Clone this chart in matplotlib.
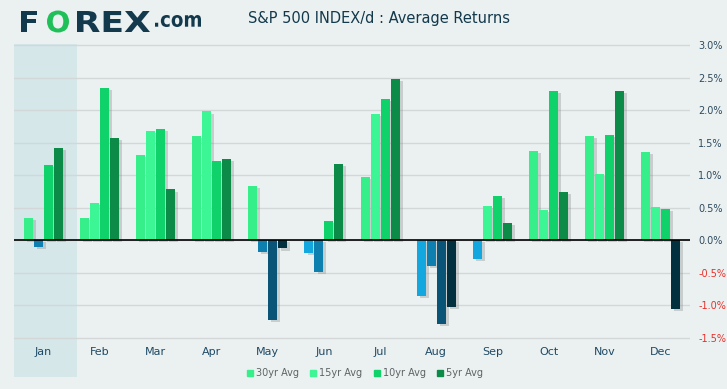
import matplotlib.pyplot as plt
import matplotlib.patheffects as pe
from matplotlib.textpath import TextPath
from matplotlib.patches import PathPatch
from matplotlib.font_manager import FontProperties
from matplotlib.transforms import Affine2D, IdentityTransform
import numpy as np

# average monthly returns in %
months = ['Jan', 'Feb', 'Mar', 'Apr', 'May', 'Jun',
          'Jul', 'Aug', 'Sep', 'Oct', 'Nov', 'Dec']
avg_30yr = [0.34, 0.34, 1.31, 1.60, 0.83, -0.20, 0.97, -0.86, -0.29, 1.37, 1.60, 1.36]
avg_15yr = [-0.11, 0.57, 1.68, 1.98, -0.18, -0.49, 1.94, -0.40, 0.52, 0.46, 1.02, 0.51]
avg_10yr = [1.15, 2.34, 1.71, 1.22, -1.23, 0.29, 2.17, -1.29, 0.68, 2.29, 1.62, 0.48]
avg_5yr = [1.42, 1.57, 0.78, 1.25, -0.13, 1.17, 2.48, -1.03, 0.26, 0.74, 2.29, -1.06]

series_names = ['30yr Avg', '15yr Avg', '10yr Avg', '5yr Avg']
yticks = [-1.5, -1.0, -0.5, 0.0, 0.5, 1.0, 1.5, 2.0, 2.5, 3.0]

pos_colors = ['#36ef8b', '#3cf594', '#10d26b', '#0b8a48']
neg_colors = ['#12a7df', '#0e80b0', '#0a5577', '#03303f']

bg = '#ebf0f0'
navy = '#12394c'
H = 389

fig = plt.figure(figsize=(7.27, 3.89), dpi=100, facecolor=bg)
ax = fig.add_axes([0.0193, 0.0308, 0.9298, 0.856])
ax.set_facecolor(bg)

x = np.arange(len(months))
step = 0.178
width = 0.16
shadow = [pe.SimplePatchShadow(offset=(2.2, -1.6), shadow_rgbFace='#7a8080', alpha=0.3),
          pe.Normal()]

# highlighted month
ax.axvspan(-0.52, 0.6, color='#d5e7e9', zorder=0, lw=0)

for i, vals in enumerate([avg_30yr, avg_15yr, avg_10yr, avg_5yr]):
    vals = np.array(vals)
    cols = [pos_colors[i] if v >= 0 else neg_colors[i] for v in vals]
    bars = ax.bar(x + (i - 1.5) * step, vals, width=width, color=cols,
                  zorder=3, label=series_names[i])
    for b in bars:
        b.set_path_effects(shadow)

ax.axhline(0, color='black', lw=1.2, zorder=4)

ax.set_xlim(-0.52, 11.52)
ax.set_ylim(-2.108, 3.015)
ax.set_yticks(yticks)
ax.yaxis.grid(True, color='#d3d7d8', lw=1, zorder=1)
ax.set_axisbelow(True)
ax.yaxis.tick_right()
ax.tick_params(axis='y', length=0, pad=6, labelsize=7, labelcolor='#2e4a5e')
ax.set_yticklabels(['%.1f%%' % t for t in yticks])
for lab, t in zip(ax.get_yticklabels(), yticks):
    if t < 0:
        lab.set_color('#e8302a')
ax.set_xticks([])
for s in ax.spines.values():
    s.set_visible(False)

for xi, m in zip(x, months):
    ax.text(xi, -1.73, m, ha='center', va='center', fontsize=8, color='#1f4a66')

# legend
handles = [plt.Line2D([], [], marker='s', ls='', markersize=5, color=c) for c in pos_colors]
fig.legend(handles, series_names, loc='center', bbox_to_anchor=(0.502, 0.041),
           ncol=4, frameon=False, fontsize=7, labelcolor='#5e6466',
           handlelength=0.6, handletextpad=0.3, columnspacing=1.2)

# title
fig.text(0.522, 0.953, 'S&P 500 INDEX/d : Average Returns', ha='center', va='center',
         fontsize=10.5, color=navy, fontweight='medium')


# logo, drawn as stretched text paths in pixel coordinates
def logo_text(s, left, top, bottom, right, color, weight='heavy'):
    tp = TextPath((0, 0), s, size=100, prop=FontProperties(family='DejaVu Sans', weight=weight))
    ext = tp.get_extents()
    sx = (right - left) / ext.width
    sy = (bottom - top) / ext.height
    tr = Affine2D().translate(-ext.x0, -ext.y0).scale(sx, sy).translate(left, H - bottom)
    fig.add_artist(PathPatch(tr.transform_path(tp), color=color, lw=0,
                             transform=IdentityTransform()))


logo_text('F', 21, 11, 32, 37, navy)
logo_text('O', 47, 10.5, 32.5, 69, '#1fc05a')
logo_text('REX', 77, 11, 32, 150, navy)
logo_text('.com', 155, 15, 27, 201, navy, weight='bold')

fig.savefig('out.png', dpi=100, facecolor=bg)
